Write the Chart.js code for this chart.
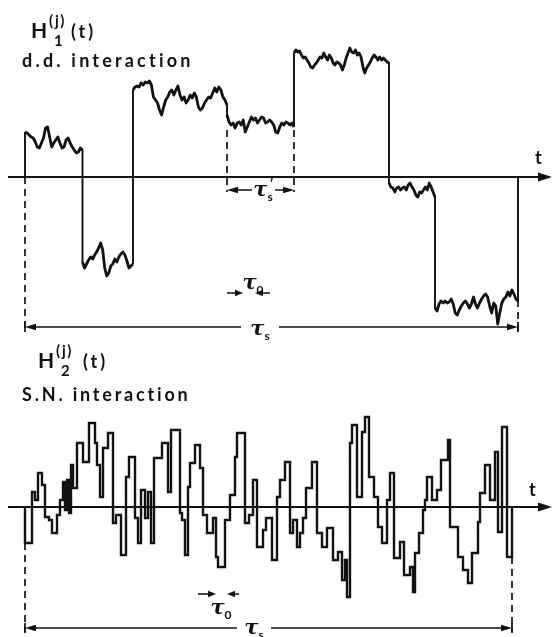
<!DOCTYPE html>
<html>
<head>
<meta charset="utf-8">
<script src="https://cdn.jsdelivr.net/npm/chart.js@4.4.0/dist/chart.umd.min.js"></script>
<style>
  html, body { margin: 0; padding: 0; background: #fff; }
  #wrap { position: relative; width: 552px; height: 637px; overflow: hidden; background: #fff; }
  canvas { position: absolute; left: 0; }
  #top { top: 0; }
  #bottom { top: 340px; }
</style>
</head>
<body>
<div id="wrap">
  <canvas id="top" width="552" height="345"></canvas>
  <canvas id="bottom" width="552" height="297"></canvas>
</div>
<script>
// time in units of tau_0, H in arbitrary units (0 = the t axis)

// H1 (d.d. interaction): switching times and the noisy level samples in between
const h1Switch = [0, 5.75, 10.8, 20.2, 26.9, 36.4, 41.0, 49.3];
const h1Levels = [
    [4.5, 4.4, 4.2, 4.0, 3.9, 3.5, 3.0, 2.9, 3.4, 3.9, 4.9, 5.0, 4.0, 3.0, 3.4, 3.7, 4.0, 3.4, 2.9, 3.0,
     3.7, 3.9, 3.4, 3.0, 2.7, 2.4, 2.5, 2.9, 2.7],
    [-8.5, -9.1, -8.7, -8.3, -8.0, -8.2, -7.8, -7.5, -7.1, -6.6, -7.3, -9.1, -9.9, -9.6, -8.9, -8.7, -8.2,
     -8.5, -8.0, -7.7, -7.5, -7.8, -8.4, -9.1, -8.9, -8.7],
    [8.7, 9.0, 9.1, 9.0, 9.4, 9.2, 9.5, 9.4, 9.6, 9.2, 8.0, 7.7, 7.4, 6.7, 6.2, 7.0, 7.7, 8.0, 8.5, 8.7,
     8.2, 8.7, 9.1, 8.2, 7.7, 8.0, 7.4, 7.7, 8.2, 7.9, 8.4, 8.0, 7.0, 6.7, 6.9, 7.4, 7.7, 8.0, 7.9, 8.4,
     8.9, 8.5, 9.0, 8.7, 8.0, 7.7, 7.2],
    [6.2, 5.5, 5.2, 5.4, 4.9, 5.4, 5.5, 5.2, 5.7, 4.5, 5.0, 5.5, 6.0, 5.7, 5.9, 5.4, 5.7, 6.0, 5.9, 5.4,
     5.5, 5.7, 5.5, 5.2, 4.5, 4.4, 5.0, 5.4, 5.2, 5.5, 5.4, 5.2, 5.4, 5.0],
    [12.4, 12.7, 12.5, 12.6, 12.2, 11.9, 12.0, 11.7, 11.4, 11.0, 10.9, 11.2, 11.4, 11.7, 12.0, 11.9, 12.4,
     12.0, 11.7, 12.2, 11.9, 11.4, 11.2, 11.5, 11.4, 11.2, 10.7, 11.2, 11.9, 12.4, 12.9, 12.5, 12.4, 12.7,
     12.2, 12.4, 12.0, 11.0, 10.4, 10.9, 11.2, 11.5, 11.9, 12.2, 12.0, 11.7, 12.0, 11.7, 11.9, 11.7, 11.5, 11.4],
    [-0.6, -1.0, -1.1, -1.5, -1.1, -1.0, -1.3, -1.1, -1.0, -1.3, -0.8, -0.6, -1.0, -1.3, -1.8, -2.0, -1.5,
     -1.6, -1.3, -1.0, -1.3, -0.6, -1.0, -1.5, -2.0],
    [-13.1, -13.4, -12.7, -12.4, -12.6, -12.4, -12.6, -12.5, -12.2, -12.7, -13.6, -13.8, -13.3, -12.9, -12.6,
     -12.4, -12.7, -13.1, -12.7, -12.0, -12.7, -13.1, -12.6, -12.2, -11.9, -11.7, -12.0, -12.9, -13.6, -12.6,
     -12.9, -14.7, -13.6, -12.6, -12.2, -12.0, -11.5, -11.9, -11.3, -11.7, -12.2, -12.4]
];

// H2 (S.N. interaction): step times and the level held from each time on
const h2Times = [0, 0, 0.7, 1.0, 1.3, 1.7, 2.0, 2.4, 2.7, 3.2,
    3.5, 3.8, 4.0, 4.2, 4.4, 4.6, 4.8, 5.2, 5.8, 6.4,
    7.0, 7.2, 7.5, 7.8, 8.3, 8.8, 9.1, 9.6, 10.1, 10.4,
    11.0, 11.3, 11.6, 12.0, 12.3, 12.6, 12.9, 13.7, 14.3, 14.6,
    15.5, 15.7, 16.0, 16.3, 16.5, 17.0, 17.5, 17.8, 18.2, 18.8,
    19.1, 19.3, 20.0, 20.5, 21.0, 21.2, 22.0, 22.4, 22.8, 23.2,
    23.8, 24.1, 24.7, 25.2, 25.5, 26.0, 26.5, 26.8, 27.2, 27.5,
    27.8, 28.1, 28.7, 29.2, 29.7, 30.2, 30.8, 31.3, 31.7, 32.0,
    32.2, 32.5, 32.7, 33.2, 33.7, 34.0, 34.4, 34.9, 35.3, 35.7,
    36.2, 36.5, 36.9, 37.5, 37.9, 38.5, 38.8, 39.0, 39.4, 39.8,
    40.0, 40.2, 40.7, 41.2, 41.6, 42.3, 42.5, 43.3, 43.8, 44.3,
    44.7, 45.3, 45.5, 46.0, 46.5, 47.0, 47.3, 47.7, 48.2, 48.7];
const h2Values = [0, -3.6, 1.5, 0.7, 3.4, 2.2, -1.0, -1.3, -2.6, -0.8,
    0.7, 2.5, -0.3, 2.7, -0.6, 4.2, 1.9, 6.4, 4.5, 8.4,
    6.4, 4.2, 1.0, 5.9, 7.4, -1.6, -0.8, -4.8, 3.0, 5.0,
    -1.1, -3.6, 1.7, -1.1, 1.5, -3.6, 4.9, 6.4, 1.5, 7.7,
    -0.6, -1.3, -4.8, 2.0, 4.4, 6.2, 3.9, -0.8, -2.6, -1.1,
    -5.0, -6.0, -1.3, 1.2, 5.0, 7.4, -1.6, -0.8, 2.7, -4.0,
    -2.3, -1.1, -5.3, 1.0, 2.7, 4.5, -2.6, -1.3, -4.0, -2.6,
    -1.1, 1.9, 4.5, -2.6, -4.0, -2.1, -5.3, -4.5, -7.3, -5.3,
    -9.0, 6.4, 8.2, 1.0, 7.5, 9.0, 3.0, 1.0, -2.0, -3.6,
    0.7, 3.4, -5.1, -3.5, -6.8, -6.0, -8.5, -4.6, -2.6, -0.3,
    0.7, 3.0, 0.7, 1.7, 4.7, 6.7, -2.0, -5.0, -6.3, -7.6,
    -4.6, -1.5, 1.4, 4.2, 0.7, 5.5, -2.5, 8.0, -5.0, 0];

const ink = '#111';
const FONT = 'Lato';

// build H1 points: samples spread evenly over each switching interval
const h1Points = [{x: h1Switch[0], y: 0}];
h1Levels.forEach((levels, k) => {
    const t0 = h1Switch[k], t1 = h1Switch[k + 1];
    levels.forEach((h, i) => {
        h1Points.push({x: t0 + (t1 - t0) * i / (levels.length - 1), y: h});
    });
});
h1Points.push({x: h1Switch[h1Switch.length - 1], y: 0});

const h2Points = h2Times.map((t, i) => ({x: t, y: h2Values[i]}));

function arrowHead(ctx, x, y, dir, len, half) {
    ctx.beginPath();
    ctx.moveTo(x, y);
    ctx.lineTo(x - dir * len, y - half);
    ctx.lineTo(x - dir * len, y + half);
    ctx.closePath();
    ctx.fill();
}

function tau(ctx, cx, cy, sub, prime) {
    const big = 'italic bold 21px "DejaVu Serif"', small = 'bold 12px ' + FONT;
    ctx.font = big;
    const w = ctx.measureText('τ').width;
    ctx.font = small;
    const ws = ctx.measureText(sub).width;
    const left = cx - (w + ws) / 2;
    ctx.font = big;
    ctx.fillText('τ', left, cy + 5);
    ctx.font = small;
    ctx.fillText(sub, left + w, cy + 10);
    if (prime) ctx.fillText('\u2032', left + w + 2, cy - 3);
}

const sketch = {
    id: 'sketch',
    afterDatasetsDraw(chart, args, o) {
        const {ctx, scales: {x, y}} = chart;
        const X = v => x.getPixelForValue(v), Y = v => y.getPixelForValue(v);
        ctx.save();
        ctx.strokeStyle = ink;
        ctx.fillStyle = ink;
        ctx.textBaseline = 'alphabetic';

        // t axis
        ctx.lineWidth = 2;
        ctx.beginPath();
        ctx.moveTo(X(o.axisFrom), Y(0));
        ctx.lineTo(X(x.max) - 8, Y(0));
        ctx.stroke();
        arrowHead(ctx, X(x.max), Y(0), 1, 14, 4.5);
        ctx.font = 'bold 18px ' + FONT;
        ctx.fillText('t', X(o.tLabel[0]), Y(o.tLabel[1]));

        // dashed guide lines
        ctx.lineWidth = 1.7;
        ctx.setLineDash([7, 5]);
        o.dashes.forEach(([t, h0, h1]) => {
            ctx.beginPath();
            ctx.moveTo(X(t), Y(h0));
            ctx.lineTo(X(t), Y(h1));
            ctx.stroke();
        });
        ctx.setLineDash([]);

        // dimension arrows
        o.spans.forEach(s => {
            const yy = Y(s.h);
            ctx.lineWidth = 1.7;
            ctx.beginPath();
            ctx.moveTo(X(s.from) + 4, yy);
            ctx.lineTo(X(s.gap[0]), yy);
            ctx.moveTo(X(s.gap[1]), yy);
            ctx.lineTo(X(s.to) - 4, yy);
            ctx.stroke();
            arrowHead(ctx, X(s.from), yy, -1, 11, 3.2);
            arrowHead(ctx, X(s.to), yy, 1, 11, 3.2);
            if (s.ticks) {
                ctx.beginPath();
                ctx.moveTo(X(s.from), yy - 5);
                ctx.lineTo(X(s.from), yy + 5);
                ctx.moveTo(X(s.to), yy - 5);
                ctx.lineTo(X(s.to), yy + 5);
                ctx.stroke();
            }
            tau(ctx, X(s.labelAt[0]), Y(s.labelAt[1]), 's', s.prime);
        });

        // tau_0 marker
        const m = o.tau0;
        ctx.lineWidth = 1.7;
        ctx.beginPath();
        ctx.moveTo(X(m.left[0]), Y(m.h));
        ctx.lineTo(X(m.left[1]) - 4, Y(m.h));
        ctx.moveTo(X(m.right[0]), Y(m.h));
        ctx.lineTo(X(m.right[1]) + 4, Y(m.h));
        ctx.stroke();
        arrowHead(ctx, X(m.left[1]), Y(m.h), 1, 8, 3.2);
        arrowHead(ctx, X(m.right[1]), Y(m.h), -1, 8, 3.2);
        tau(ctx, X(m.label[0]), Y(m.label[1]), '0', false);

        // heading
        const hd = o.heading;
        ctx.font = 'bold 21px ' + FONT;
        ctx.fillText('H', hd.x, hd.y);
        ctx.font = 'bold 15px ' + FONT;
        ctx.letterSpacing = '1.5px';
        ctx.fillText('(j)', hd.x + 18, hd.y - 12);
        ctx.fillText(hd.sub, hd.x + 23, hd.y + 8);
        ctx.font = 'bold 18px ' + FONT;
        ctx.letterSpacing = '3px';
        ctx.fillText('(t)', hd.x + hd.tOffset, hd.y);
        ctx.font = 'bold 18px ' + FONT;
        ctx.letterSpacing = hd.spacing;
        ctx.fillText(hd.text, 22, hd.textY);
        ctx.letterSpacing = '0px';
        ctx.restore();
    }
};

function baseOptions(ymin, ymax, extra) {
    return {
        responsive: false,
        animation: false,
        layout: {padding: 0},
        elements: {point: {radius: 0}},
        scales: {
            x: {type: 'linear', display: false, min: -2.5, max: 52.7},
            y: {type: 'linear', display: false, min: ymin, max: ymax}
        },
        plugins: {legend: {display: false}, tooltip: {enabled: false}, sketch: extra}
    };
}

new Chart(document.getElementById('top'), {
    type: 'line',
    data: {
        datasets: [{
            data: h1Points,
            borderColor: ink,
            borderWidth: 2.8,
            borderJoinStyle: 'round',
            tension: 0,
            segment: {
                borderWidth: c => c.p0.parsed.x === c.p1.parsed.x ? 1.9 : 2.8
            }
        }]
    },
    options: baseOptions(-16.8, 17.7, {
        axisFrom: -1.7,
        tLabel: [51.0, 1.3],
        dashes: [[0, 0, -15.6], [20.2, 4.7, -1.5], [26.9, 4.7, -1.5], [49.3, -12.3, -15.6]],
        spans: [
            {from: 0, to: 49.3, h: -15.0, gap: [21.6, 25.4], ticks: true, labelAt: [23.5, -15.3], prime: false},
            {from: 20.2, to: 26.9, h: -1.3, gap: [22.7, 25.0], ticks: false, labelAt: [23.8, -1.4], prime: true}
        ],
        tau0: {h: -11.6, left: [20.2, 21.8], right: [24.5, 23.0], label: [22.8, -10.7]},
        heading: {x: 31, y: 38, sub: '1', tOffset: 40, text: 'd.d. interaction', textY: 67, spacing: '3.2px'}
    }),
    plugins: [sketch]
});

new Chart(document.getElementById('bottom'), {
    type: 'line',
    data: {
        datasets: [{
            data: h2Points,
            borderColor: ink,
            borderWidth: 2.4,
            stepped: 'before',
            tension: 0
        }]
    },
    options: baseOptions(-13.0, 16.7, {
        axisFrom: -1.7,
        tLabel: [50.4, 1.1],
        dashes: [[0, -3.6, -12.5], [48.7, -5.0, -12.5]],
        spans: [
            {from: 0, to: 48.7, h: -12.1, gap: [21.2, 24.6], ticks: true, labelAt: [22.9, -12.2], prime: false}
        ],
        tau0: {h: -8.7, left: [17.3, 19.1], right: [21.4, 20.2], label: [19.6, -10.2]},
        heading: {x: 38, y: 28, sub: '2', tOffset: 45, text: 'S.N. interaction', textY: 61, spacing: '2.8px'}
    }),
    plugins: [sketch]
});
</script>
</body>
</html>
